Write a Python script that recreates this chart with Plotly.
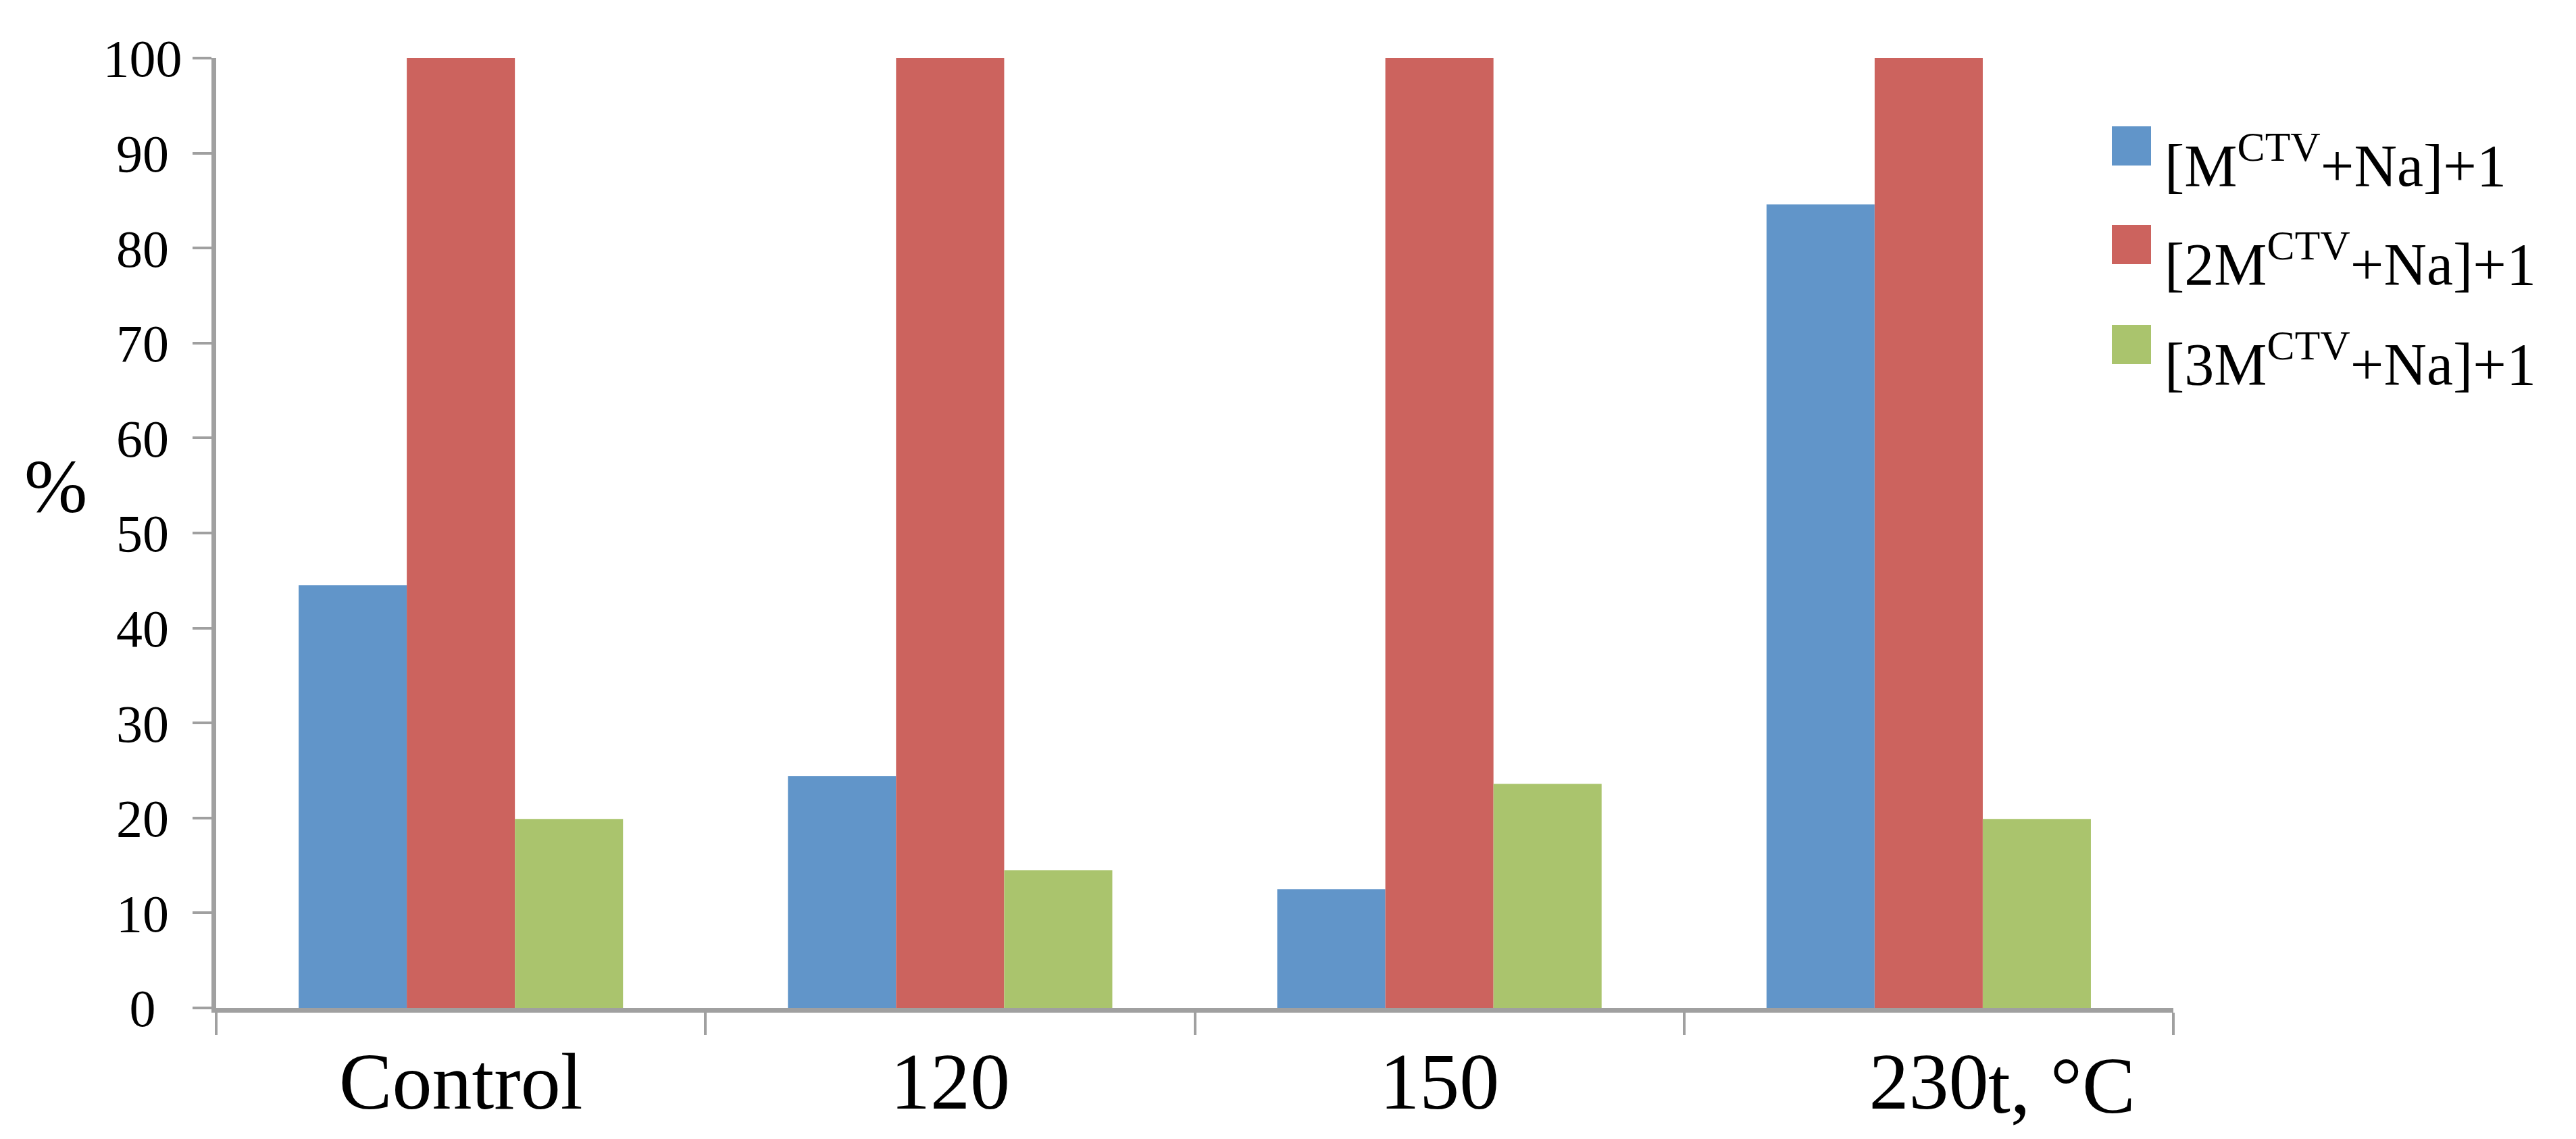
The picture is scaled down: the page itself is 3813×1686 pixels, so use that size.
import plotly.graph_objects as go

# ---- data ----
categories = ["Control", "120", "150", "230"]
series_names = ["[M<sup>CTV</sup>+Na]+1", "[2M<sup>CTV</sup>+Na]+1", "[3M<sup>CTV</sup>+Na]+1"]
m1_values = [44.5, 24.4, 12.5, 84.6]
m2_values = [100, 100, 100, 100]
m3_values = [19.9, 14.5, 23.6, 19.9]
series_colors = ["#6195C9", "#CC635E", "#AAC46D"]
y_tickvals = [0, 10, 20, 30, 40, 50, 60, 70, 80, 90, 100]
y_ticktext = ["0\u00a0\u00a0", "10\u00a0", "20\u00a0", "30\u00a0", "40\u00a0", "50\u00a0",
              "60\u00a0", "70\u00a0", "80\u00a0", "90\u00a0", "100"]
x_unit_text = "t, \u00b0C"
y_title = "%"

W, H = 3813, 1686
ML, MR, MT, MB = 312, 604, 78, 202
PW, PH = W - ML - MR, H - MT - MB
FONT = "Liberation Serif, Times New Roman, serif"
AXIS_COLOR = "#A0A0A0"


def px_x(px):
    return (px - ML) / PW


def px_y(py):
    return (H - MB - py) / PH


fig = go.Figure()
for name, vals, col in zip(series_names, [m1_values, m2_values, m3_values], series_colors):
    fig.add_trace(go.Bar(x=categories, y=vals, name=name, marker_color=col,
                         marker_line_width=0, showlegend=False))

# custom legend (large squares)
shapes = []
annotations = []
row_centers = [208, 354, 502]
for name, col, yc in zip(series_names, series_colors, row_centers):
    shapes.append(dict(type="rect", xref="paper", yref="paper",
                       x0=px_x(3118), x1=px_x(3176), y0=px_y(yc + 29), y1=px_y(yc - 29),
                       fillcolor=col, line_width=0))
    annotations.append(dict(text=name, xref="paper", yref="paper", x=px_x(3194), y=px_y(yc + 22),
                            xanchor="left", yanchor="middle", showarrow=False,
                            font=dict(family=FONT, size=88, color="black")))

# y-axis title "%"
annotations.append(dict(text=y_title, xref="paper", yref="paper", x=px_x(74), y=px_y(712),
                        xanchor="center", yanchor="middle", showarrow=False,
                        font=dict(family=FONT, size=112, color="black")))
# unit text right after the last category label
annotations.append(dict(text=x_unit_text, xref="x", yref="paper", x=len(categories) - 1, y=0,
                        xanchor="left", yanchor="top", xshift=86, yshift=-48, showarrow=False,
                        font=dict(family=FONT, size=118, color="black")))

fig.update_layout(
    width=W, height=H,
    margin=dict(l=ML, r=MR, t=MT, b=MB, autoexpand=False),
    paper_bgcolor="white", plot_bgcolor="white",
    barmode="group", bargap=0.337, bargroupgap=0,
    shapes=shapes, annotations=annotations,
    font=dict(family=FONT, color="black"),
)
fig.update_xaxes(
    type="category", range=[-0.5, len(categories) - 0.5], autorange=False,
    showline=True, linecolor=AXIS_COLOR, linewidth=7,
    ticks="outside", tickson="boundaries", ticklen=33, tickwidth=4, tickcolor=AXIS_COLOR,
    tickfont=dict(family=FONT, size=118, color="black"), showgrid=False, zeroline=False,
)
fig.update_yaxes(
    range=[0, 100], tickvals=y_tickvals, ticktext=y_ticktext,
    showline=True, linecolor=AXIS_COLOR, linewidth=7,
    ticks="outside", ticklen=28, tickwidth=4, tickcolor=AXIS_COLOR,
    tickfont=dict(family=FONT, size=78, color="black"), showgrid=False, zeroline=False,
)

fig.write_html("out.html")
